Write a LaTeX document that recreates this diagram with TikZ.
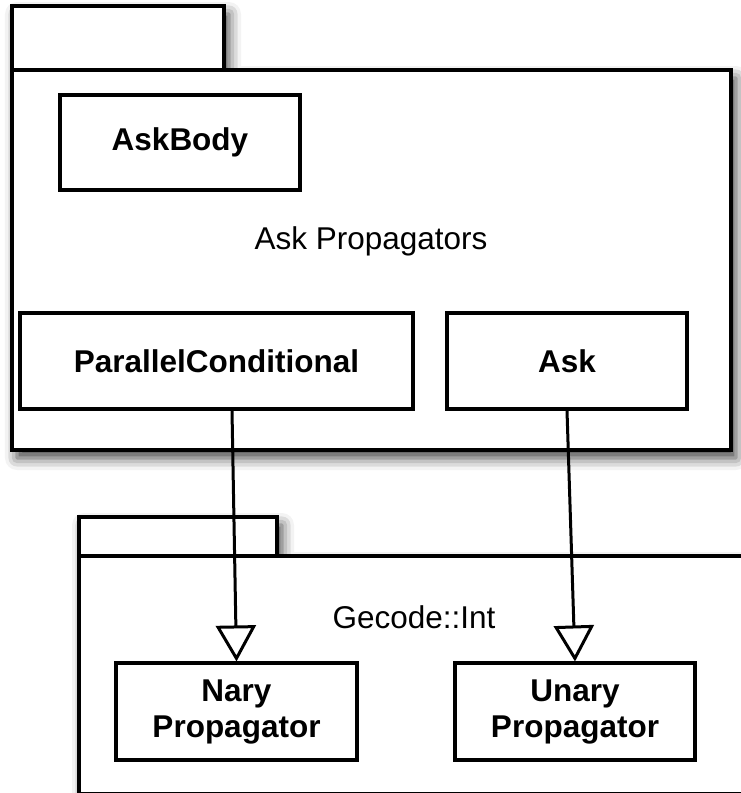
\documentclass[tikz,border=0pt]{standalone}
\usepackage{fontspec}
\setmainfont{Liberation Sans}
\usetikzlibrary{shadows.blur,arrows.meta}
\begin{document}
\begin{tikzpicture}[x=1pt,y=-1pt,
  cls/.style={draw, line width=3.1pt, fill=white, font=\fontsize{31.5}{36}\selectfont\bfseries, align=center, inner sep=0pt},
  pkg/.style={draw, line width=3.3pt, fill=white, line join=miter,
    blur shadow={shadow xshift=5pt, shadow yshift=-8pt, shadow blur radius=12pt, shadow opacity=75}},
  lbl/.style={font=\fontsize{31.5}{36}\selectfont},
  gen/.style={line width=3pt, -{Triangle[open, length=36pt, width=40pt, fill=white]}}
]
\useasboundingbox (0,0) rectangle (741,793);
\clip (0,0) rectangle (741,793);
% top package
\path[pkg] (12,6) -- (224,6) -- (224,70) -- (731,70) -- (731,450) -- (12,450) -- cycle;
\draw[line width=3.3pt] (12,70) -- (224,70);
\node[lbl] (ptitle) at (371,241) {Ask Propagators};
\node[cls, minimum width=240pt, minimum height=95pt] (askbody) at (180,142.5) {AskBody};
\node[cls, minimum width=393pt, minimum height=96pt] (pc) at (216.5,361) {ParallelConditional};
\node[cls, minimum width=240pt, minimum height=96pt] (ask) at (567,361) {Ask};
% bottom package
\path[pkg] (79,517) -- (277,517) -- (277,556) -- (800,556) -- (800,794) -- (79,794) -- cycle;
\draw[line width=3.3pt] (79,556) -- (277,556);
\node[lbl] (gtitle) at (414,617) {Gecode::Int};
\node[cls, minimum width=241pt, minimum height=97pt] (nary) at (236.5,711.5) {Nary\\Propagator};
\node[cls, minimum width=240pt, minimum height=97pt] (unary) at (575,711.5) {Unary\\Propagator};
% generalizations
\draw[gen] ([xshift=15.5pt]pc.south) -- (nary.north);
\draw[gen] (ask.south) -- (unary.north);
\end{tikzpicture}
\end{document}
